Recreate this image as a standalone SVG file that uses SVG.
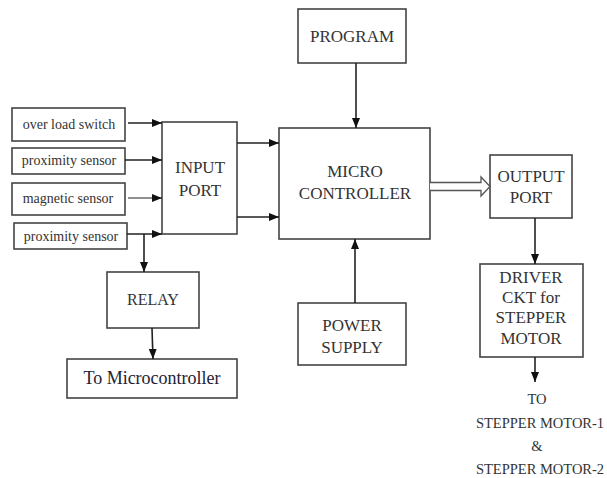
<svg xmlns="http://www.w3.org/2000/svg" width="607" height="478" viewBox="0 0 607 478" font-family="'Liberation Serif', 'DejaVu Serif', serif">
<defs>
<marker id="ah" viewBox="0 0 10 8" refX="10" refY="4" markerWidth="10" markerHeight="8" markerUnits="userSpaceOnUse" orient="auto">
<path d="M0,0 L10,4 L0,8 Z" fill="#111"/>
</marker>
<style>
.box{fill:#fff;stroke:#444;stroke-width:1.6}
.ln{stroke:#222;stroke-width:1.6;fill:none}
.t{font-family:'Liberation Serif','DejaVu Serif',serif;fill:#333;text-anchor:middle}
.s{font-size:14px}
.m{font-size:17px}
.k{font-size:14.5px}
</style>
</defs>
<rect width="607" height="478" fill="#fff"/>
<g id="s1"><rect class="box" x="12" y="108" width="113" height="33"/><text class="t s" x="69" y="129">over load switch</text></g>
<g id="s2"><rect class="box" x="12" y="148" width="113" height="26"/><text class="t s" x="69" y="165">proximity sensor</text></g>
<g id="s3"><rect class="box" x="12" y="183" width="113" height="32"/><text class="t s" x="68" y="203">magnetic sensor</text></g>
<g id="s4"><rect class="box" x="14" y="223" width="113" height="26"/><text class="t s" x="71" y="241">proximity sensor</text></g>
<g id="inport"><rect class="box" x="162" y="122" width="75" height="112"/><text class="t m" x="200" y="173">INPUT</text><text class="t m" x="200" y="196">PORT</text></g>
<g id="mc"><rect class="box" x="279" y="128" width="151" height="111"/><text class="t m" x="355" y="177">MICRO</text><text class="t m" x="355" y="199">CONTROLLER</text></g>
<g id="prog"><rect class="box" x="298" y="9" width="108" height="54"/><text class="t m" x="352" y="42">PROGRAM</text></g>
<g id="power"><rect class="box" x="298" y="303" width="108" height="62"/><text class="t m" x="352" y="331">POWER</text><text class="t m" x="352" y="353">SUPPLY</text></g>
<g id="outport"><rect class="box" x="490" y="155" width="82" height="63"/><text class="t m" x="531" y="182">OUTPUT</text><text class="t m" x="531" y="203">PORT</text></g>
<g id="driver"><rect class="box" x="480" y="264" width="103" height="93"/><text class="t m" x="531" y="283">DRIVER</text><text class="t m" x="531" y="303">CKT for</text><text class="t m" x="531" y="323">STEPPER</text><text class="t m" x="531" y="344">MOTOR</text></g>
<g id="relay"><rect class="box" x="107" y="272" width="92" height="56"/><text class="t" x="153" y="305" style="font-size:16px">RELAY</text></g>
<g id="tomc"><rect class="box" x="67" y="359" width="170" height="39"/><text class="t" x="152" y="384" style="fill:#223;font-size:18px">To Microcontroller</text></g>
<g id="motors">
<text class="t k" x="537" y="404">TO</text>
<text class="t k" x="540" y="428">STEPPER MOTOR-1</text>
<text class="t k" x="537" y="451">&amp;</text>
<text class="t k" x="540" y="474">STEPPER MOTOR-2</text>
</g>
<g id="connectors">
<line class="ln" x1="128" y1="123" x2="162" y2="123" marker-end="url(#ah)"/>
<line class="ln" x1="125" y1="160" x2="162" y2="160" marker-end="url(#ah)"/>
<line class="ln" x1="128" y1="198" x2="162" y2="198" marker-end="url(#ah)" style="stroke-width:1.1"/>
<line class="ln" x1="127" y1="234" x2="162" y2="234" marker-end="url(#ah)"/>
<line class="ln" x1="237" y1="143" x2="279" y2="143" marker-end="url(#ah)"/>
<line class="ln" x1="237" y1="217" x2="279" y2="217" marker-end="url(#ah)"/>
<line class="ln" x1="356" y1="63" x2="356" y2="128" marker-end="url(#ah)"/>
<line class="ln" x1="355" y1="303" x2="355" y2="239" marker-end="url(#ah)"/>
<line class="ln" x1="535" y1="218" x2="535" y2="264" marker-end="url(#ah)"/>
<line class="ln" x1="535" y1="357" x2="535" y2="382" marker-end="url(#ah)"/>
<line class="ln" x1="144" y1="234" x2="144" y2="272" marker-end="url(#ah)"/>
<line class="ln" x1="152" y1="328" x2="153" y2="359" marker-end="url(#ah)"/>
<path d="M430,182.5 H481 V177 L490,186.5 L481,196 V190.5 H430" fill="#fff" stroke="#555" stroke-width="1.3"/>
</g>
</svg>
